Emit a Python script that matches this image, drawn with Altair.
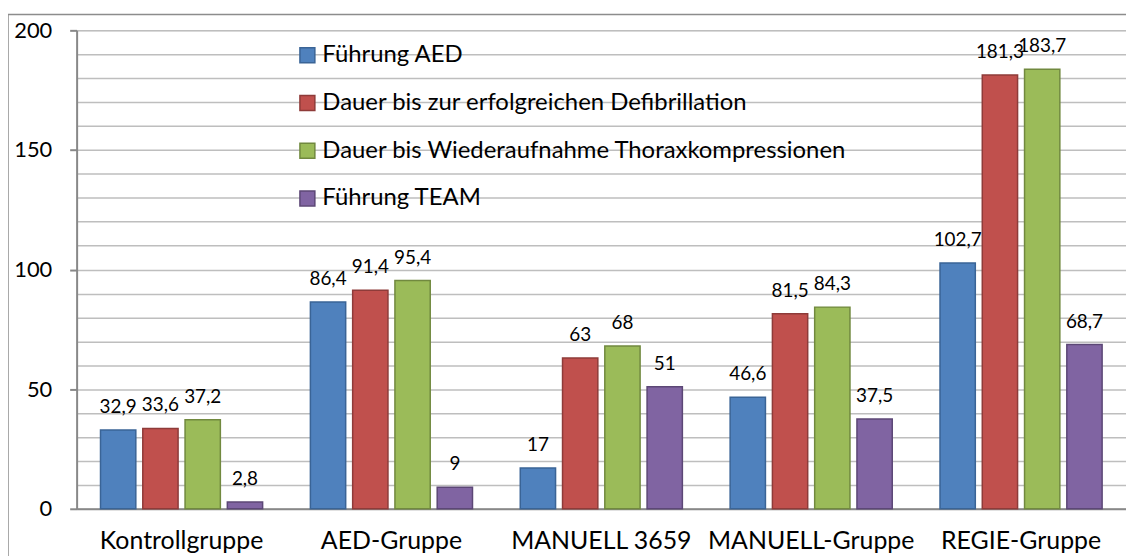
import altair as alt
import pandas as pd

groups = ["Kontrollgruppe", "AED-Gruppe", "MANUELL 3659", "MANUELL-Gruppe", "REGIE-Gruppe"]
series = [
    "Führung AED",
    "Dauer bis zur erfolgreichen Defibrillation",
    "Dauer bis Wiederaufnahme Thoraxkompressionen",
    "Führung TEAM",
]
fuehrung_aed = [32.9, 86.4, 17, 46.6, 102.7]
dauer_defi = [33.6, 91.4, 63, 81.5, 181.3]
dauer_thorax = [37.2, 95.4, 68, 84.3, 183.7]
fuehrung_team = [2.8, 9, 51, 37.5, 68.7]

fills = ["#4F81BD", "#C0504D", "#9BBB59", "#8064A2"]
strokes = ["#3A6496", "#8E3B39", "#71893F", "#5C4776"]

rows = []
for s, vals in zip(series, [fuehrung_aed, dauer_defi, dauer_thorax, fuehrung_team]):
    for g, v in zip(groups, vals):
        rows.append({"group": g, "series": s, "value": v,
                     "label": f"{v:g}".replace(".", ",")})
df = pd.DataFrame(rows)

FONT = "Lato"
W, H = 1055, 481

x = alt.X("group:N", sort=groups, title=None,
          scale=alt.Scale(paddingInner=0, paddingOuter=0),
          axis=alt.Axis(labelFontSize=25, labelFont=FONT, labelColor="#000000",
                        ticks=False, tickSize=0, labelPadding=20, labelAngle=0,
                        labelLimit=500, labelOverlap=False,
                        domainColor="#888888", domainWidth=2))
xo = alt.XOffset("series:N", sort=series,
                 scale=alt.Scale(paddingInner=0.165, paddingOuter=0.565))
y = alt.Y("value:Q", title=None,
          scale=alt.Scale(domain=[0, 200], nice=False),
          axis=alt.Axis(values=list(range(0, 201, 10)),
                        labelExpr="datum.value % 50 === 0 ? datum.label : ''",
                        labelOverlap=False,
                        labelFontSize=22, labelFont=FONT, labelColor="#000000",
                        labelPadding=18, tickSize=7,
                        tickColor={"condition": {"test": "datum.value % 50 === 0", "value": "#888888"},
                                   "value": "transparent"},
                        tickWidth=2,
                        domainColor="#888888", domainWidth=2,
                        grid=True, gridColor="#BEBEBE", gridWidth=1.5))

color = alt.Color("series:N", sort=series, title=None,
                  scale=alt.Scale(domain=series, range=fills),
                  legend=alt.Legend(orient="none", legendX=220, legendY=13,
                                    symbolType="square", symbolSize=225,
                                    symbolStrokeWidth=1.5,
                                    labelFontSize=24, labelFont=FONT, labelColor="#000000",
                                    labelOffset=3, rowPadding=24, labelLimit=800,
                                    padding=0))
stroke = alt.Stroke("series:N", sort=series, title=None,
                    scale=alt.Scale(domain=series, range=strokes), legend=None)

base = alt.Chart(df)

bars = base.mark_bar(strokeWidth=1.5).encode(x=x, xOffset=xo, y=y, color=color, stroke=stroke)

labels = base.mark_text(baseline="alphabetic", dy=-17, fontSize=19, font=FONT,
                        color="#000000").encode(
    x=x, xOffset=xo, y=y, text="label:N")

border = alt.Chart(alt.Data(values=[{}])).mark_rect(
    fill=None, stroke="#8C8C8C", strokeWidth=1.5, clip=False).encode(
    x=alt.value(-69), x2=alt.value(W + 40), y=alt.value(-16), y2=alt.value(H + 120))

chart = alt.layer(border, bars, labels).properties(
    width=W, height=H,
    autosize=alt.AutoSizeParams(type="none"),
    padding={"left": 69, "top": 21, "right": 0, "bottom": 46},
).configure_view(fill="#E7E7E7", stroke=None).configure(background="#FFFFFF")

chart.save("out.html", embed_options={"renderer": "svg", "actions": False})
